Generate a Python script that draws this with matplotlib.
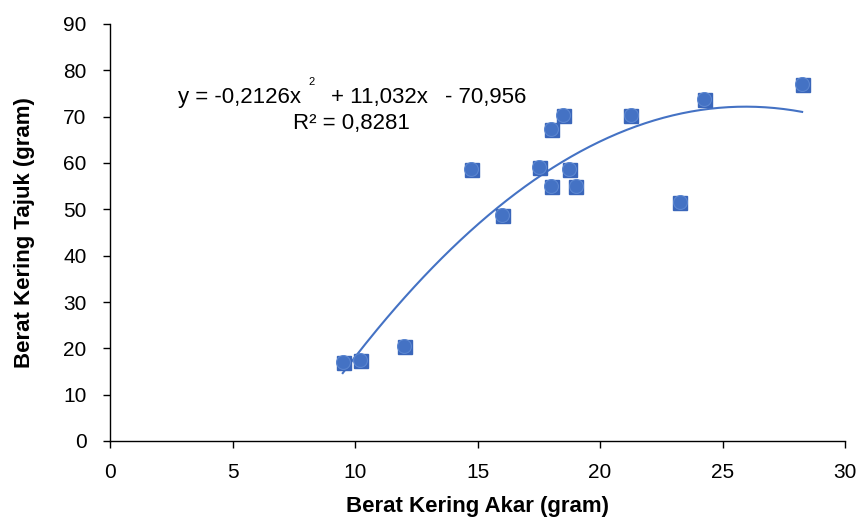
import matplotlib
matplotlib.use("Agg")
import matplotlib.pyplot as plt
import matplotlib.transforms as mtransforms
import numpy as np

# data
akar = [9.5, 10.2, 12.0, 14.75, 16.0, 17.5, 18.0, 18.0, 18.5, 18.75, 19.0, 21.25, 23.25, 24.25, 28.25]
tajuk = [17.0, 17.5, 20.4, 58.7, 48.8, 59.2, 55.0, 67.3, 70.4, 58.7, 55.0, 70.4, 51.5, 73.8, 77.1]
coef = [-0.2126, 11.032, -70.956]   # trendline from the chart
x_ticks = [0, 5, 10, 15, 20, 25, 30]
y_ticks = [0, 10, 20, 30, 40, 50, 60, 70, 80, 90]

blue = "#4472C4"
plt.rcParams["font.family"] = ["Liberation Sans", "DejaVu Sans"]

fig = plt.figure(figsize=(8.57, 5.18), dpi=100)
ax = fig.add_axes([110/857, 77/518, 735/857, 417/518])

# trendline
xs = np.linspace(min(akar), max(akar), 200)
ax.plot(xs, np.polyval(coef, xs), color=blue, lw=1.5, zorder=2)

# markers: square with a circle on top (Excel style)
off = mtransforms.offset_copy(ax.transData, fig=fig, x=0.6, y=-0.6, units="points")
ax.plot(akar, tajuk, ls="none", marker="s", ms=9.5, color="#3A66BA",
        mec="#3A66BA", transform=off, zorder=3)
ax.plot(akar, tajuk, ls="none", marker="o", ms=10, color=blue,
        mec="#5B86D0", mew=0.8, zorder=4)

ax.set_xlim(0, 30)
ax.set_ylim(0, 90)
ax.set_xticks(x_ticks)
ax.set_yticks(y_ticks)
ax.tick_params(labelsize=15, length=5, width=1, direction="out")
ax.tick_params(axis="y", pad=12)
ax.tick_params(axis="x", pad=11)
for s in ["top", "right"]:
    ax.spines[s].set_visible(False)
for s in ["left", "bottom"]:
    ax.spines[s].set_linewidth(1)

ax.set_xlabel("Berat Kering Akar (gram)", fontsize=16, fontweight="bold", labelpad=10)
ax.set_ylabel("Berat Kering Tajuk (gram)", fontsize=16, fontweight="bold", labelpad=20)

# equation text
eq_y = 1 - 97/518
fig.text(178/857, eq_y, "y = -0,2126x", fontsize=16, va="center", ha="left")
fig.text(308/857, 1 - 82/518, "2", fontsize=8, va="center", ha="left")
fig.text(331/857, eq_y, "+ 11,032x", fontsize=16, va="center", ha="left")
fig.text(445/857, eq_y, "- 70,956", fontsize=16, va="center", ha="left")
fig.text(351/857, 1 - 124/518, "R² = 0,8281", fontsize=16, va="center", ha="center")

fig.savefig("out.png", dpi=100)
